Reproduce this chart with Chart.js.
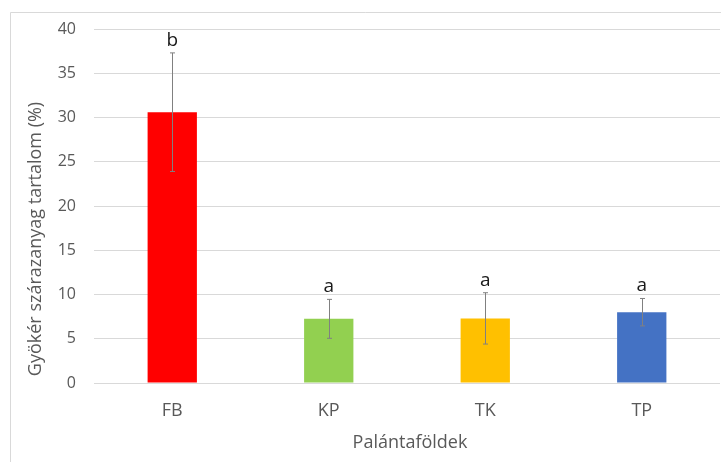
<!DOCTYPE html>
<html>
<head>
<meta charset="utf-8">
<script src="https://cdn.jsdelivr.net/npm/chart.js@4/dist/chart.umd.min.js"></script>
<style>
  html, body { margin: 0; padding: 0; background: #ffffff; }
  #wrap { position: relative; width: 721px; height: 462px; }
</style>
</head>
<body>
<div id="wrap"><canvas id="chart" width="721" height="462"></canvas></div>
<script>
// Root dry matter content by seedling substrate
const categories = ['FB', 'KP', 'TK', 'TP'];
const meanValues = [30.6, 7.25, 7.3, 8.0];
const errorValues = [6.7, 2.2, 2.9, 1.55];
const groupLetters = ['b', 'a', 'a', 'a'];
const barColors = ['#ff0000', '#92d050', '#ffc000', '#4472c4'];
const yMin = 0, yMax = 40, yStep = 5;
const yTitle = 'Gyökér szárazanyag tartalom (%)';
const xTitle = 'Palántaföldek';

const FONT = "'Open Sans', 'Noto Sans', sans-serif";
const TEXT_GREY = '#595959';

// Frame line along the top and left edge of the chart area
const framePlugin = {
  id: 'frame',
  beforeDraw(chart) {
    const ctx = chart.ctx;
    ctx.save();
    ctx.fillStyle = '#ffffff';
    ctx.fillRect(0, 0, chart.width, chart.height);
    ctx.strokeStyle = '#d9d9d9';
    ctx.lineWidth = 1;
    ctx.beginPath();
    ctx.moveTo(10.5, chart.height);
    ctx.lineTo(10.5, 12.5);
    ctx.lineTo(chart.width, 12.5);
    ctx.stroke();
    ctx.restore();
  }
};

// Standard-deviation whiskers plus significance letters above them
const errorBarPlugin = {
  id: 'errorBars',
  afterDatasetsDraw(chart) {
    const ctx = chart.ctx;
    const yScale = chart.scales.y;
    const meta = chart.getDatasetMeta(0);
    ctx.save();
    meta.data.forEach((bar, i) => {
      const x = Math.round(bar.x) + 0.5;
      const top = yScale.getPixelForValue(meanValues[i] + errorValues[i]);
      const bottom = yScale.getPixelForValue(meanValues[i] - errorValues[i]);
      ctx.strokeStyle = '#808080';
      ctx.lineWidth = 1;
      ctx.beginPath();
      ctx.moveTo(x, top);
      ctx.lineTo(x, bottom);
      ctx.moveTo(x - 2.5, top);
      ctx.lineTo(x + 2.5, top);
      ctx.moveTo(x - 2.5, bottom);
      ctx.lineTo(x + 2.5, bottom);
      ctx.stroke();

      ctx.fillStyle = '#1a1a1a';
      ctx.font = '19px ' + FONT;
      ctx.textAlign = 'center';
      ctx.textBaseline = 'alphabetic';
      ctx.fillText(groupLetters[i], bar.x, top - 7);
    });
    ctx.restore();
  }
};

// Axis titles
const axisTitlePlugin = {
  id: 'axisTitles',
  afterDraw(chart) {
    const ctx = chart.ctx;
    const area = chart.chartArea;
    ctx.save();
    ctx.fillStyle = TEXT_GREY;
    ctx.font = '18px ' + FONT;
    ctx.textAlign = 'center';
    ctx.textBaseline = 'middle';
    ctx.fillText(xTitle, (area.left + area.right) / 2 + 3, 443);
    ctx.translate(36, 239);
    ctx.rotate(-Math.PI / 2);
    ctx.fillText(yTitle, 0, 0);
    ctx.restore();
  }
};

new Chart(document.getElementById('chart'), {
  type: 'bar',
  data: {
    labels: categories,
    datasets: [{
      data: meanValues,
      backgroundColor: barColors,
      borderWidth: 0,
      categoryPercentage: 1.0,
      barPercentage: 0.315
    }]
  },
  options: {
    responsive: false,
    devicePixelRatio: 1,
    animation: false,
    layout: { padding: { left: 0, right: 1, top: 29, bottom: 0 } },
    plugins: {
      legend: { display: false },
      tooltip: { enabled: false }
    },
    scales: {
      x: {
        grid: { display: false, drawTicks: false },
        border: { display: false },
        ticks: {
          color: TEXT_GREY,
          font: { family: FONT, size: 18 },
          padding: 17
        },
        afterFit(scale) { scale.height = 79; }
      },
      y: {
        min: yMin,
        max: yMax,
        grid: { color: '#d9d9d9', lineWidth: 1, drawTicks: false },
        border: { display: false },
        ticks: {
          stepSize: yStep,
          color: TEXT_GREY,
          font: { family: FONT, size: 16 },
          padding: 18
        },
        afterFit(scale) { scale.width = 94; }
      }
    }
  },
  plugins: [framePlugin, errorBarPlugin, axisTitlePlugin]
});
</script>
</body>
</html>
